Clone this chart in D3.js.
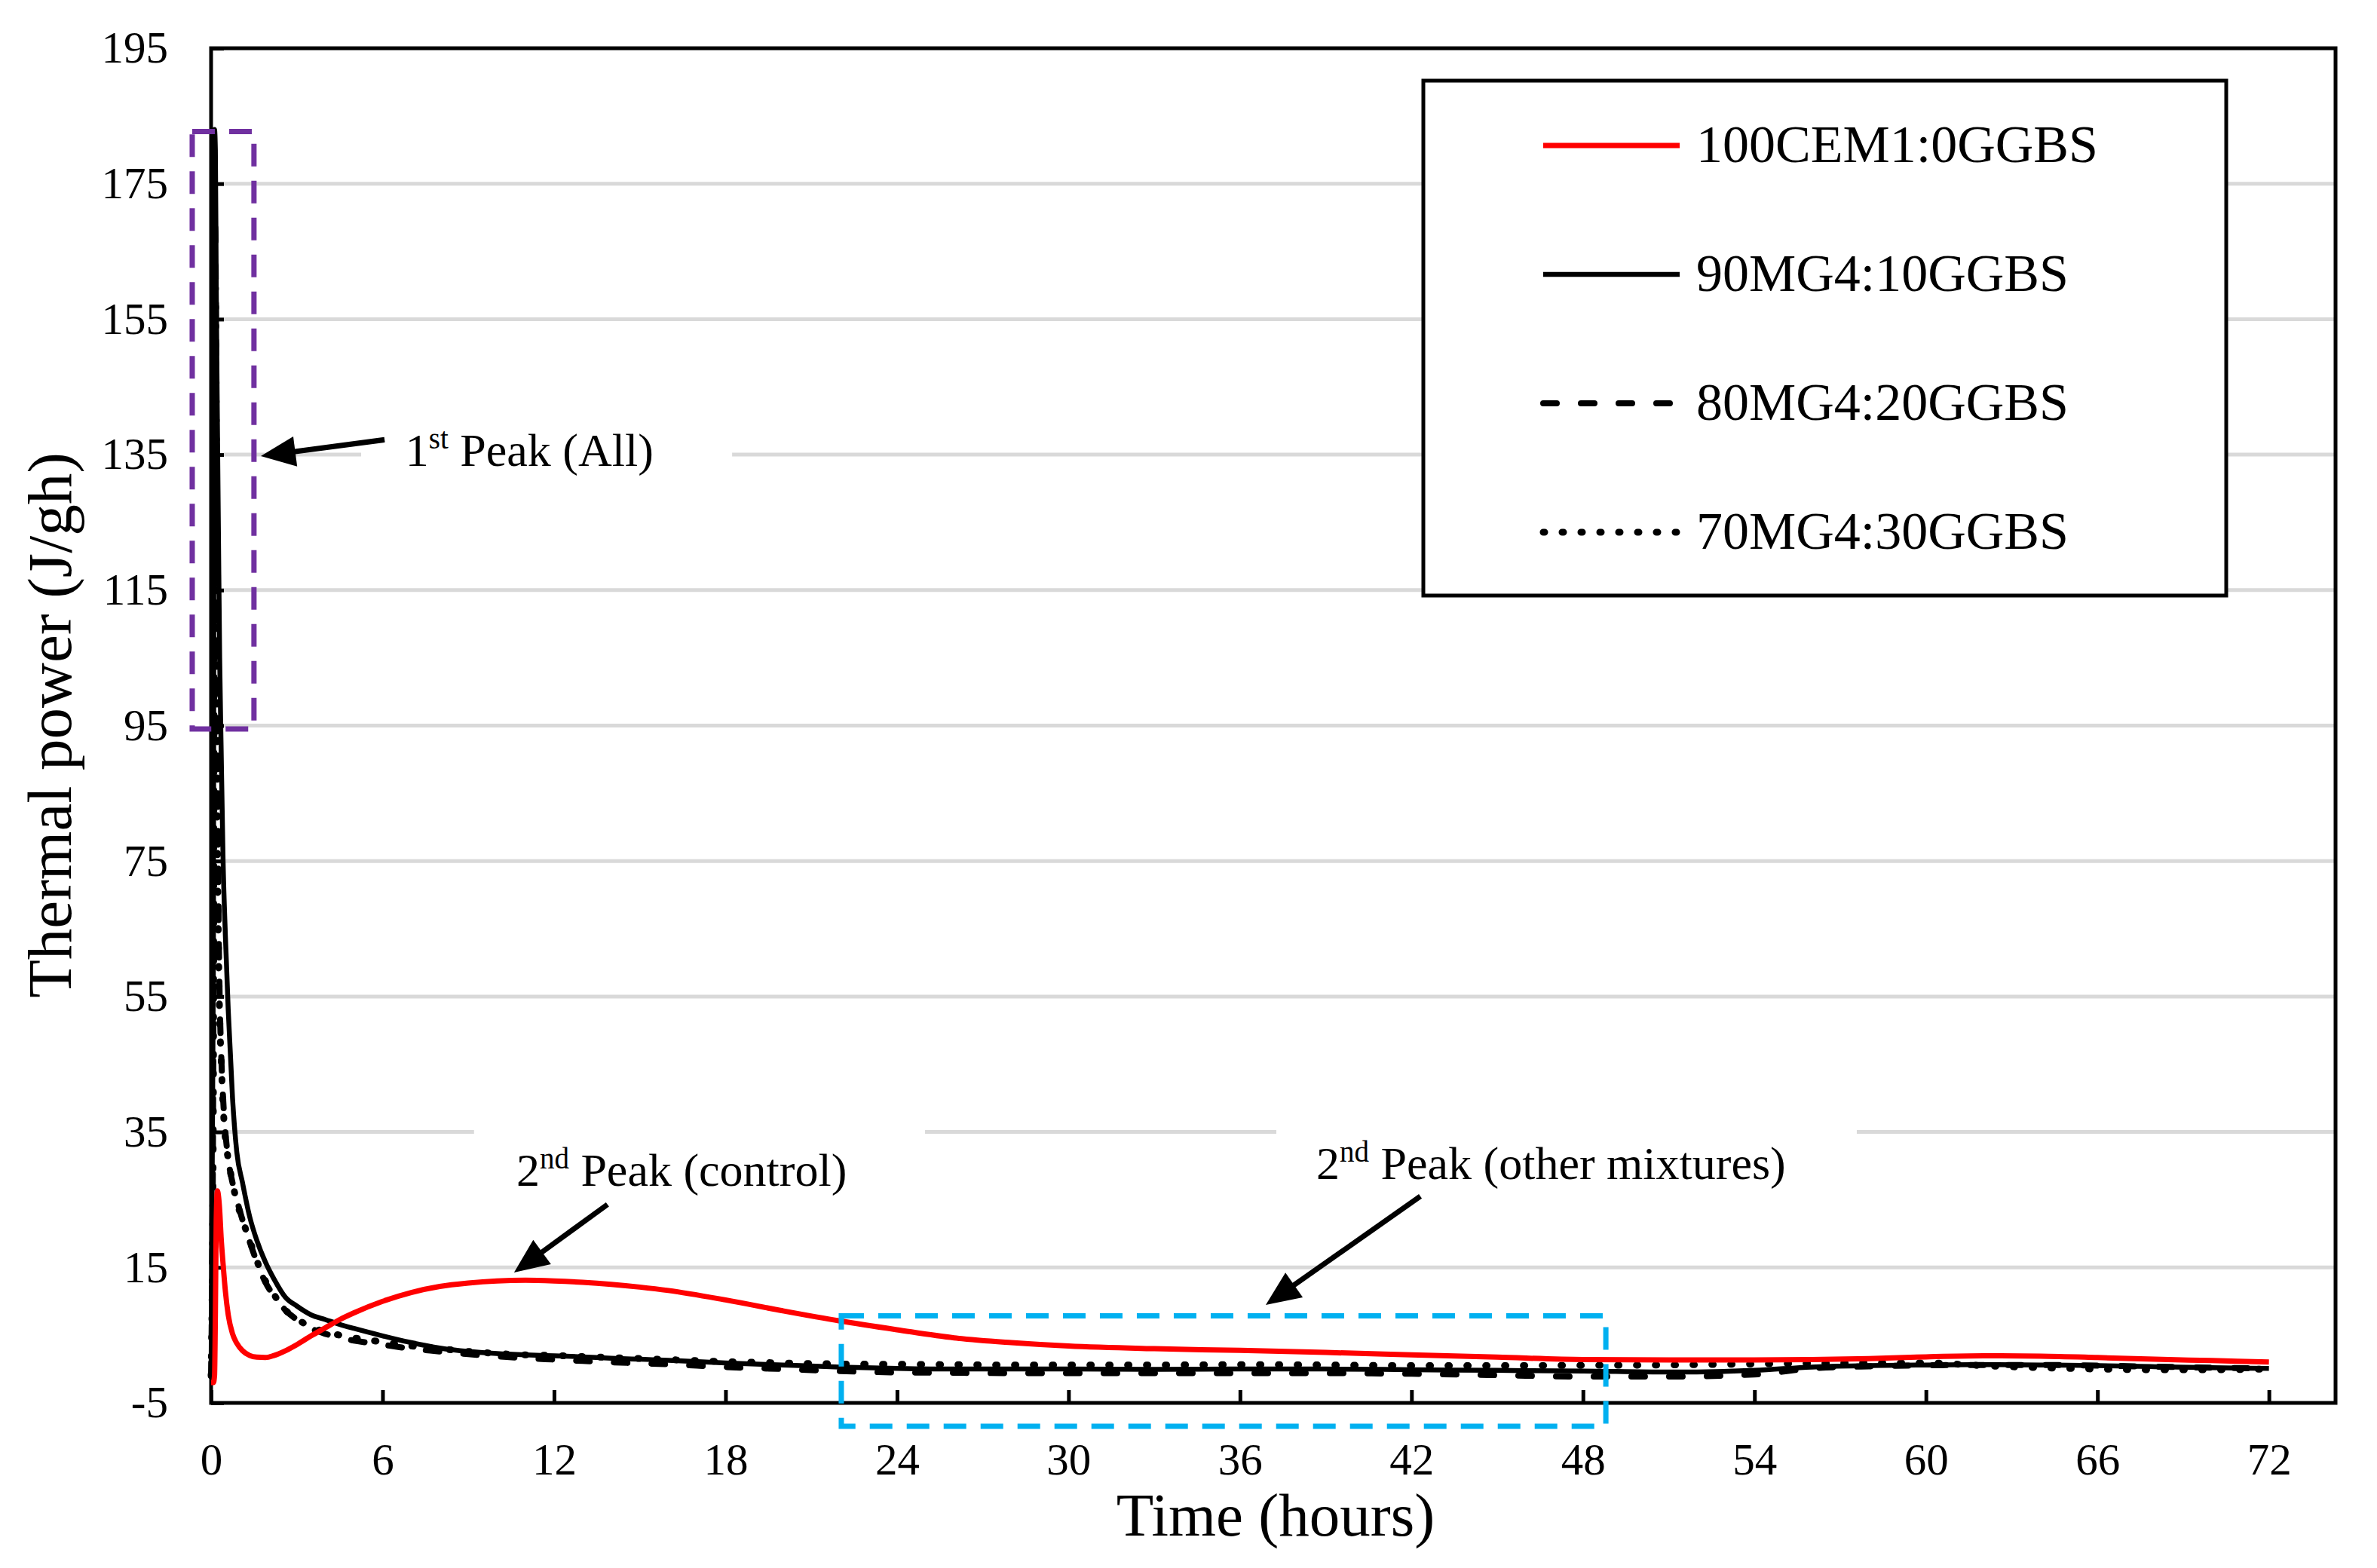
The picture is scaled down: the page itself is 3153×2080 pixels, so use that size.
<!DOCTYPE html>
<html><head><meta charset="utf-8">
<script src="https://cdn.jsdelivr.net/npm/d3@7"></script>
<style>html,body{margin:0;padding:0;background:#fff;}svg{display:block;}</style>
</head><body>
<script>
// ---------- data ----------
const times = [0, 0.08, 0.12, 0.15, 0.18, 0.22, 0.26, 0.3, 0.35, 0.42, 0.5, 0.6, 0.75, 0.9, 1.1, 1.35, 1.6, 1.9, 2.2, 2.6, 3.0, 3.5, 4.0, 4.5, 5, 6, 7, 8, 9, 10, 11, 12, 13, 14, 15, 16, 18, 20, 22, 24, 26, 28, 30, 33, 36, 39, 42, 45, 48, 51, 54, 56, 58, 60, 62, 64, 66, 68, 70, 72];
const cem100 = [-2, -2, -1, 8, 22, 26.3, 25.5, 23.5, 19.5, 15.5, 11.5, 8.0, 5.2, 3.8, 2.7, 2.0, 1.75, 1.7, 2.0, 2.7, 3.6, 4.9, 6.1, 7.3, 8.3, 10.0, 11.3, 12.2, 12.7, 13.0, 13.1, 13.0, 12.8, 12.5, 12.1, 11.6, 10.2, 8.6, 7.1, 5.8, 4.6, 3.9, 3.4, 3.0, 2.75, 2.45, 2.1, 1.75, 1.4, 1.35, 1.35, 1.4, 1.55, 1.8, 1.95, 1.9, 1.7, 1.45, 1.25, 1.05];
const mg90 = [-1, 60, 183, 180, 160, 140, 122, 105, 92, 75, 64, 53, 40, 32, 27.5, 22.5, 19, 15.8, 13.3, 10.6, 9.3, 8.0, 7.3, 6.6, 6.0, 4.9, 3.9, 3.1, 2.6, 2.3, 2.1, 1.95, 1.8, 1.6, 1.45, 1.3, 0.9, 0.6, 0.3, 0.1, 0.0, 0.0, 0.0, -0.05, 0.0, 0.0, -0.1, -0.2, -0.3, -0.45, -0.2, 0.3, 0.5, 0.6, 0.65, 0.6, 0.5, 0.35, 0.2, 0.1];
const mg80 = [-1, 50, 170, 168, 145, 95, 68, 55, 47, 40, 35, 31, 27.5, 25, 22, 18.8, 15.8, 12.8, 10.8, 8.7, 7.3, 6.0, 5.2, 4.6, 4.2, 3.6, 3.0, 2.6, 2.2, 1.9, 1.6, 1.4, 1.2, 1.0, 0.85, 0.7, 0.3, 0.0, -0.3, -0.5, -0.55, -0.6, -0.6, -0.6, -0.6, -0.6, -0.7, -0.9, -1.1, -1.1, -0.8, 0.1, 0.4, 0.55, 0.6, 0.6, 0.5, 0.35, 0.2, 0.1];
const mg70 = [-1, 40, 150, 160, 140, 80, 62, 52, 46, 39, 34, 31, 27.5, 24.7, 22, 19, 16, 13, 11, 8.7, 7.4, 6.2, 5.5, 5.0, 4.6, 4.0, 3.4, 3.0, 2.6, 2.3, 2.1, 2.0, 1.85, 1.7, 1.55, 1.4, 1.1, 0.9, 0.75, 0.7, 0.65, 0.6, 0.6, 0.6, 0.65, 0.6, 0.5, 0.5, 0.55, 0.6, 0.75, 0.85, 0.9, 0.9, 0.5, 0.2, 0.0, -0.1, -0.1, 0.0];
const seriesNames = ["100CEM1:0GGBS", "90MG4:10GGBS", "80MG4:20GGBS", "70MG4:30GGBS"];
const xTicks = [0, 6, 12, 18, 24, 30, 36, 42, 48, 54, 60, 66, 72];
const yTicks = [-5, 15, 35, 55, 75, 95, 115, 135, 155, 175, 195];
const xTitle = "Time (hours)";
const yTitle = "Thermal power (J/gh)";

// ---------- layout ----------
const W = 3153, H = 2080;
const L = 280, R = 3098, T = 64, B = 1861;
const FONT = "'Liberation Serif','Times New Roman',Times,serif";

const x = d3.scaleLinear().domain([0, 74.33]).range([L, R]);
const y = d3.scaleLinear().domain([-5, 195]).range([B, T]);

const svg = d3.select("body").append("svg").attr("width", W).attr("height", H)
  .style("font-family", FONT);
svg.append("rect").attr("width", W).attr("height", H).attr("fill", "#fff");

// gridlines
svg.append("g").selectAll("line").data(yTicks.filter(v => v > -5 && v < 195)).join("line")
  .attr("x1", L).attr("x2", R).attr("y1", d => y(d)).attr("y2", d => y(d))
  .attr("stroke", "#d9d9d9").attr("stroke-width", 5);

// annotation white boxes (in data units)
const noteBoxes = [
  {x0: 5.25, x1: 18.23, y0: 129, y1: 141},
  {x0: 9.2, x1: 24.98, y0: 29, y1: 41},
  {x0: 37.27, x1: 57.58, y0: 29, y1: 41}
];
svg.append("g").selectAll("rect").data(noteBoxes).join("rect")
  .attr("x", d => x(d.x0)).attr("y", d => y(d.y1))
  .attr("width", d => x(d.x1) - x(d.x0)).attr("height", d => y(d.y0) - y(d.y1))
  .attr("fill", "#fff");

// axes
const fmt = d => String(d);
const yAxis = d3.axisLeft(y).tickValues(yTicks).tickFormat(fmt).tickSize(-17).tickPadding(57);
const xAxis = d3.axisBottom(x).tickValues(xTicks).tickFormat(fmt).tickSize(-17).tickPadding(53);
const gy = svg.append("g").attr("transform", `translate(${L},0)`).call(yAxis);
const gx = svg.append("g").attr("transform", `translate(0,${B})`).call(xAxis);
[gx, gy].forEach(g => {
  g.select(".domain").remove();
  g.selectAll(".tick line").attr("stroke", "#000").attr("stroke-width", 5);
  g.selectAll(".tick text").attr("fill", "#000").style("font-family", FONT).style("font-size", "59px");
});

// frame
svg.append("rect").attr("x", L).attr("y", T).attr("width", R - L).attr("height", B - T)
  .attr("fill", "none").attr("stroke", "#000").attr("stroke-width", 5);

// series lines
const line = d3.line().x(d => x(d[0])).y(d => y(d[1])).curve(d3.curveMonotoneX);
const series = [
  {name: seriesNames[3], vals: mg70, color: "#000", dash: "2,23", width: 9, cap: "round"},
  {name: seriesNames[2], vals: mg80, color: "#000", dash: "18,32", width: 8, cap: "round"},
  {name: seriesNames[1], vals: mg90, color: "#000", dash: null, width: 6.5, cap: "butt"},
  {name: seriesNames[0], vals: cem100, color: "#ff0000", dash: null, width: 7, cap: "butt"}
];
svg.append("g").selectAll("path").data(series).join("path")
  .attr("d", s => line(times.map((t, i) => [t, s.vals[i]])))
  .attr("fill", "none").attr("stroke", s => s.color).attr("stroke-width", s => s.width)
  .attr("stroke-dasharray", s => s.dash).attr("stroke-linecap", s => s.cap)
  .attr("stroke-linejoin", "round");

// dashed highlight rectangles
const hlRects = [
  {x0: -0.66, x1: 1.50, y0: 94.5, y1: 182.7, color: "#7030a0"},
  {x0: 22.05, x1: 48.8, y0: -8.45, y1: 7.85, color: "#00b0f0"}
];
svg.append("g").selectAll("rect").data(hlRects).join("rect")
  .attr("x", d => x(d.x0)).attr("y", d => y(d.y1))
  .attr("width", d => x(d.x1) - x(d.x0)).attr("height", d => y(d.y0) - y(d.y1))
  .attr("fill", "none").attr("stroke", d => d.color).attr("stroke-width", 7)
  .attr("stroke-dasharray", "30,19");

// annotation texts
const notes = [
  {x: 6.8, y: 133.3, pre: "1", sup: "st", post: " Peak (All)"},
  {x: 10.68, y: 27.06, pre: "2", sup: "nd", post: " Peak (control)"},
  {x: 38.67, y: 28.06, pre: "2", sup: "nd", post: " Peak (other mixtures)"}
];
notes.forEach(n => {
  const t = svg.append("text").attr("x", x(n.x)).attr("y", y(n.y))
    .style("font-size", "62px").attr("fill", "#000");
  t.append("tspan").text(n.pre);
  t.append("tspan").attr("dy", -23).style("font-size", "39px").text(n.sup);
  t.append("tspan").attr("dy", 23).text(n.post);
});

// arrows
const arrows = [
  {x1: 6.07, y1: 137.2, x2: 1.74, y2: 134.8},
  {x1: 13.87, y1: 24.3, x2: 10.6, y2: 14.26},
  {x1: 42.31, y1: 25.5, x2: 36.9, y2: 9.47}
];
const ag = svg.append("g");
arrows.forEach(a => {
  const px1 = x(a.x1), py1 = y(a.y1), px2 = x(a.x2), py2 = y(a.y2);
  const dx = px2 - px1, dy = py2 - py1, len = Math.hypot(dx, dy);
  const ux = dx / len, uy = dy / len, hl = 46, hw = 20;
  const bx = px2 - ux * hl, by = py2 - uy * hl;
  ag.append("line").attr("x1", px1).attr("y1", py1).attr("x2", bx + ux * 4).attr("y2", by + uy * 4)
    .attr("stroke", "#000").attr("stroke-width", 7);
  ag.append("path").attr("d", `M${px2},${py2}L${bx - uy * hw},${by + ux * hw}L${bx + uy * hw},${by - ux * hw}Z`)
    .attr("fill", "#000");
});

// legend
const lg = svg.append("g");
lg.append("rect").attr("x", 1888).attr("y", 107).attr("width", 1065).attr("height", 683)
  .attr("fill", "#fff").attr("stroke", "#000").attr("stroke-width", 5);
const legendOrder = [series[3], series[2], series[1], series[0]];
const legY = [193, 364, 535, 706];
legendOrder.forEach((s, i) => {
  lg.append("line").attr("x1", 2047).attr("x2", 2228).attr("y1", legY[i]).attr("y2", legY[i])
    .attr("stroke", s.color).attr("stroke-width", s.width).attr("stroke-dasharray", s.dash)
    .attr("stroke-linecap", s.cap);
  lg.append("text").attr("x", 2250).attr("y", legY[i] + 22).style("font-size", "70px")
    .attr("fill", "#000").text(s.name);
});

// axis titles
svg.append("text").attr("x", 1692).attr("y", 2037).attr("text-anchor", "middle")
  .style("font-size", "81px").attr("fill", "#000").text(xTitle);
svg.append("text").attr("transform", "translate(94,962) rotate(-90)").attr("text-anchor", "middle")
  .style("font-size", "83px").attr("fill", "#000").text(yTitle);
</script>
</body></html>
